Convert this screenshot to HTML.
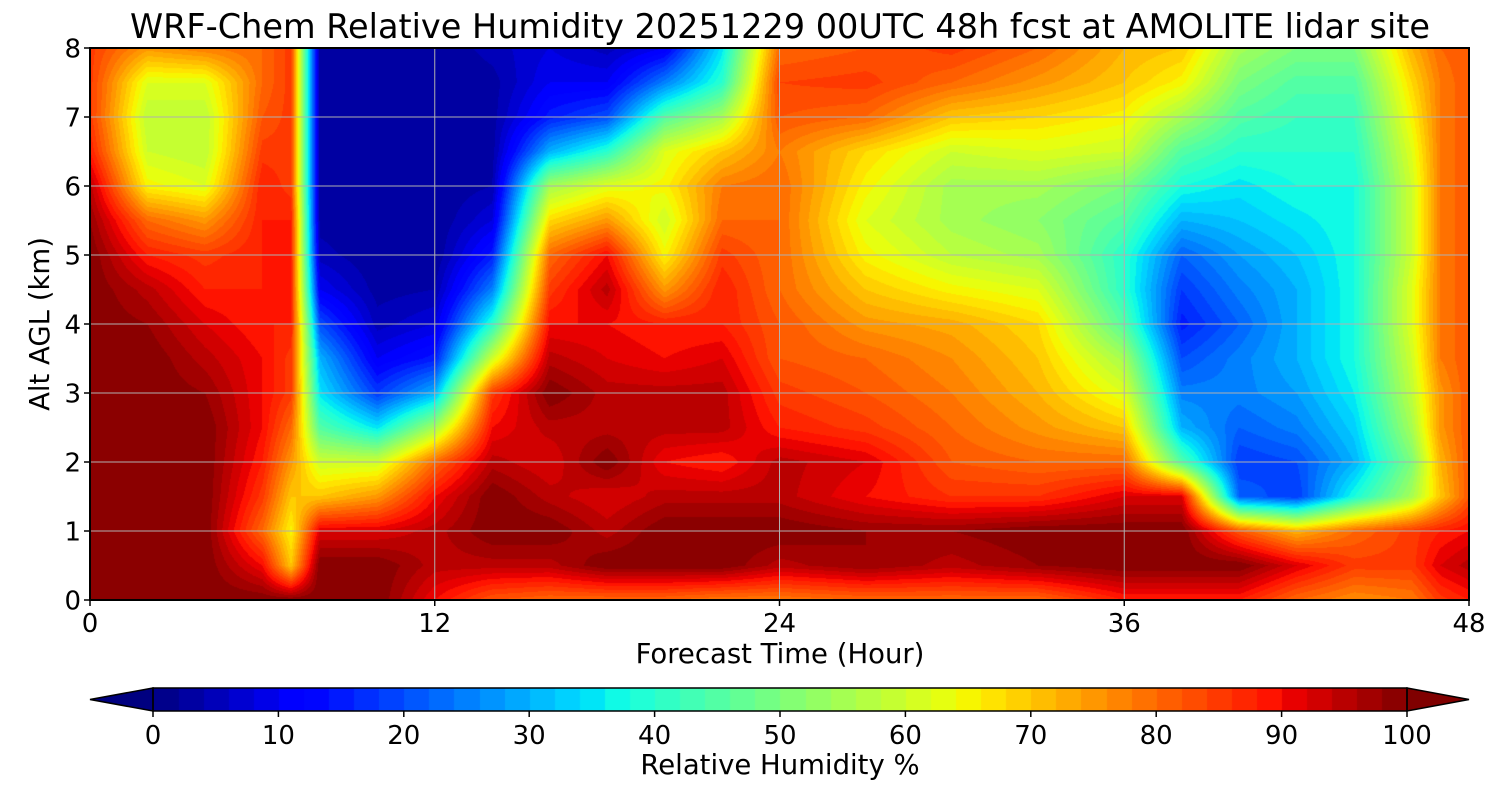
<!DOCTYPE html>
<html><head><meta charset="utf-8"><style>
body{margin:0;background:#fff;width:1500px;height:800px;overflow:hidden;font-family:"DejaVu Sans","Liberation Sans",sans-serif;}
#wrap{position:relative;width:1500px;height:800px;}
.t{position:absolute;color:#000;white-space:nowrap;}
canvas{position:absolute;}
</style></head><body><div id="wrap">
<div class="t" style="left:0;width:1560px;text-align:center;top:7px;font-size:33.5px;">WRF-Chem Relative Humidity 20251229 00UTC 48h fcst at AMOLITE lidar site</div>
<canvas id="plot" width="1379" height="552" style="left:90px;top:48px;"></canvas>
<canvas id="cbar" width="1254" height="23" style="left:153px;top:688px;"></canvas>
<svg id="ov" width="1500" height="800" style="position:absolute;left:0;top:0;"></svg>
<div class="t" style="left:0;width:1560px;text-align:center;top:638px;font-size:27.5px;">Forecast Time (Hour)</div>
<div class="t" style="left:40px;top:324px;font-size:27.5px;transform:translate(-50%,-50%) rotate(-90deg);">Alt AGL (km)</div>
<div class="t" style="left:0;width:1560px;text-align:center;top:749px;font-size:27.5px;">Relative Humidity %</div>
</div>
<script>
const hours=[0,2,4,6,7,8,10,12,14,16,18,20,22,24,27,30,33,36,38,40,42,44,46,47,48];
const alts=[0,0.5,1,1.5,2,2.5,3,3.5,4,4.5,5,5.5,6,6.5,7,7.5,8];
const rh=[
[100,100,100,100,100,100,100,100,100,100,100,98,95,88,85,85,85],
[100,100,100,100,100,100,100,100,98,95,88,80,65,60,58,62,75],
[100,100,100,100,100,100,98,95,92,88,85,75,62,58,58,62,78],
[100,90,80,85,88,90,90,90,88,88,88,88,88,85,82,80,80],
[100,70,65,70,75,80,85,85,88,88,88,88,85,85,85,85,85],
[100,100,92,70,60,45,35,30,20,10,5,3,3,3,3,3,3],
[100,100,92,75,60,35,18,10,5,3,2,2,2,2,2,2,2],
[90,95,95,90,80,55,30,15,8,4,2,2,2,2,2,2,2],
[82,95,100,100,95,90,85,60,40,25,15,8,4,3,3,3,5],
[80,95,100,95,92,95,100,95,90,85,80,68,55,30,15,10,8],
[80,100,95,92,100,95,95,92,90,95,90,75,62,40,20,10,5],
[80,100,100,95,90,95,95,90,88,75,65,60,65,62,45,25,10],
[78,100,100,95,88,95,95,92,88,88,85,80,78,70,55,40,35],
[78,95,100,95,95,88,85,82,82,80,80,80,80,78,82,84,80],
[80,98,98,90,92,85,82,80,75,70,65,62,65,68,80,85,82],
[80,95,98,86,82,80,78,76,73,65,58,55,55,60,70,80,85],
[80,98,100,86,80,75,72,70,68,62,55,52,55,62,68,75,80],
[88,100,100,92,80,70,62,55,45,40,40,45,50,60,65,70,72],
[88,100,100,92,45,30,25,20,15,18,22,30,38,45,55,65,70],
[88,100,82,22,18,22,25,25,22,25,28,32,35,40,45,50,55],
[80,92,72,18,20,25,28,30,30,30,32,35,38,40,42,45,50],
[76,85,80,38,30,33,36,38,38,38,38,38,38,40,42,45,50],
[78,85,85,55,50,55,58,60,62,62,60,60,60,62,65,68,72],
[85,92,88,70,72,75,75,78,78,78,78,78,78,78,78,78,80],
[88,95,90,82,82,82,82,82,82,82,82,82,82,82,82,82,82]];
const xTicks=[0,12,24,36,48];
const yTicks=[0,1,2,3,4,5,6,7,8];
const cTicks=[0,10,20,30,40,50,60,70,80,90,100];

const PX=90,PY=48,PW=1379,PH=552;
const xs=h=>PX+h/48*PW, ys=a=>PY+PH-a/8*PH;
const RS=[[0,0],[0.35,0],[0.66,1],[0.89,1],[1,0.5]];
const GS=[[0,0],[0.125,0],[0.375,1],[0.64,1],[0.91,0],[1,0]];
const BS=[[0,0.5],[0.11,1],[0.34,1],[0.65,0],[1,0]];
function pw(s,t){for(let i=0;i<s.length-1;i++){if(t<=s[i+1][0]){const f=(t-s[i][0])/(s[i+1][0]-s[i][0]);return s[i][1]+f*(s[i+1][1]-s[i][1]);}}return s[s.length-1][1];}
function jet(v){const t=Math.max(0,Math.min(1,v/100));
 return [Math.round(255*pw(RS,t)),Math.round(255*pw(GS,t)),Math.round(255*pw(BS,t))];}
function jetC(v){v=Math.floor(v/2)*2+1;return jet(v);}
function seg(arr,v){let i=0;while(i<arr.length-2&&v>arr[i+1])i++;return [i,(v-arr[i])/(arr[i+1]-arr[i])];}
const cv=document.getElementById('plot'),ctx=cv.getContext('2d'),img=ctx.createImageData(PW,PH);
for(let px=0;px<PW;px++){const h=(px+0.5)/PW*48;const [i,fx]=seg(hours,h);
 for(let py=0;py<PH;py++){const a=(PH-py-0.5)/PH*8;const [j,fy]=seg(alts,a);
  const v=(rh[i][j]*(1-fx)+rh[i+1][j]*fx)*(1-fy)+(rh[i][j+1]*(1-fx)+rh[i+1][j+1]*fx)*fy;
  const c=jetC(Math.min(99.9,v));const k=(py*PW+px)*4;img.data[k]=c[0];img.data[k+1]=c[1];img.data[k+2]=c[2];img.data[k+3]=255;}}
ctx.putImageData(img,0,0);
const cb=document.getElementById('cbar').getContext('2d');
for(let x=0;x<1254;x++){const c=jetC(Math.min(99.9,x/1254*100));cb.fillStyle=`rgb(${c})`;cb.fillRect(x,0,1,23);}
const NS='http://www.w3.org/2000/svg',ov=document.getElementById('ov');
const FF='DejaVu Sans, Liberation Sans, sans-serif';
function mk(tag,at,txt){const e=document.createElementNS(NS,tag);for(const k in at)e.setAttribute(k,at[k]);if(txt!==undefined)e.textContent=txt;ov.appendChild(e);return e;}
xTicks.forEach(t=>{if(t>0&&t<48){const g=mk('line',{x1:xs(t),x2:xs(t),y1:PY,y2:PY+PH,stroke:'#b0b0b0','stroke-width':1});}
 mk('line',{x1:xs(t),x2:xs(t),y1:PY+PH,y2:PY+PH+6,stroke:'#000','stroke-width':1.5});
 const l=mk('text',{x:xs(t),y:632,'font-size':26,'text-anchor':'middle','font-family':FF},t);
 });
yTicks.forEach(t=>{if(t>0&&t<8){const g=mk('line',{x1:PX,x2:PX+PW,y1:ys(t),y2:ys(t),stroke:'#b0b0b0','stroke-width':1});}
 mk('line',{x1:PX-6,x2:PX,y1:ys(t),y2:ys(t),stroke:'#000','stroke-width':1.5});
 const l=mk('text',{x:PX-9,y:ys(t)+9.5,'font-size':26,'text-anchor':'end','font-family':FF},t);
 });
const fr=mk('rect',{x:PX,y:PY,width:PW,height:PH,fill:'none',stroke:'#000','stroke-width':2});

const lo=jet(0),hi=jet(100);
mk('polygon',{points:'153,688 90,699.5 153,711',fill:`rgb(${lo})`,stroke:'#000','stroke-width':1.5});
mk('polygon',{points:'1407,688 1469,699.5 1407,711',fill:`rgb(${hi})`,stroke:'#000','stroke-width':1.5});
mk('rect',{x:153,y:688,width:1254,height:23,fill:'none',stroke:'#000','stroke-width':1.5});
cTicks.forEach(t=>{const x=153+t/100*1254;mk('line',{x1:x,x2:x,y1:711,y2:717,stroke:'#000','stroke-width':1.5});
 const l=mk('text',{x:x,y:744,'font-size':26,'text-anchor':'middle','font-family':FF},t);
 });
</script></body></html>
